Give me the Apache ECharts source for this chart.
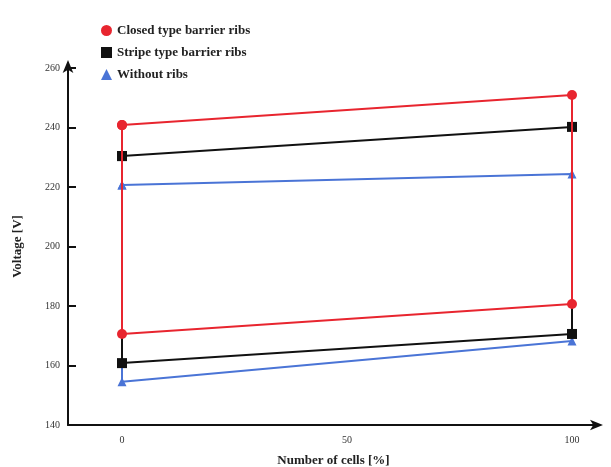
<!DOCTYPE html>
<html>
<head>
<meta charset="utf-8">
<title>Voltage vs number of cells</title>
<script src="https://cdn.jsdelivr.net/npm/echarts@6/dist/echarts.min.js"></script>
<style>
  html, body { margin: 0; padding: 0; background: #fff; }
  #chart { width: 611px; height: 467px; }
</style>
</head>
<body>
<div id="chart"></div>
<script>
// x positions (number of cells, %)
var cells = [0, 100];
var xTicks = [0, 50, 100];

// upper / lower voltage for each series at x = 0 and x = 100
var closedTop = [240.8, 250.9];
var closedBottom = [170.6, 180.7];
var stripeTop = [230.4, 240.2];
var stripeBottom = [160.8, 170.6];
var withoutTop = [220.7, 224.4];
var withoutBottom = [154.5, 168.2];

var names = ['Closed type barrier ribs', 'Stripe type barrier ribs', 'Without ribs'];
var colors = ['#e8252f', '#111111', '#4a74d6'];
var symbols = ['circle', 'rect', 'triangle'];

// closed loop: top left -> top right -> bottom right -> bottom left -> back
function loop(top, bottom) {
  return [
    [cells[0], top[0]],
    [cells[1], top[1]],
    [cells[1], bottom[1]],
    [cells[0], bottom[0]],
    [cells[0], top[0]]
  ];
}

var loops = [
  loop(closedTop, closedBottom),
  loop(stripeTop, stripeBottom),
  loop(withoutTop, withoutBottom)
];

var font = '"Liberation Serif", "DejaVu Serif", serif';

var series = [];
// draw "without" first so red ends up on top
for (var i = 2; i >= 0; i--) {
  series.push({
    name: names[i],
    type: 'line',
    data: loops[i],
    symbol: symbols[i],
    symbolSize: i === 2 ? 9 : 10,
    showAllSymbol: true,
    z: 10 - i,
    itemStyle: { color: colors[i] },
    lineStyle: { color: colors[i], width: 2 }
  });
}

var chart = echarts.init(document.getElementById('chart'));
chart.setOption({
  backgroundColor: '#ffffff',
  animation: false,
  legend: {
    orient: 'vertical',
    left: 96,
    top: 19,
    itemGap: 9,
    itemWidth: 11,
    itemHeight: 11,
    data: [
      { name: names[0], icon: 'circle' },
      { name: names[1], icon: 'rect' },
      { name: names[2], icon: 'triangle' }
    ],
    textStyle: { fontFamily: font, fontWeight: 'bold', fontSize: 13, color: '#222' }
  },
  grid: { left: 68, right: 12, top: 68, bottom: 42, outerBoundsMode: 'none', containLabel: false },
  xAxis: {
    type: 'value',
    min: -12,
    max: 106,
    name: 'Number of cells [%]',
    nameLocation: 'middle',
    nameGap: 29,
    nameTextStyle: { fontFamily: font, fontWeight: 'bold', fontSize: 13, color: '#222' },
    axisLine: { show: true, onZero: false, symbol: ['none', 'arrow'], symbolSize: [8, 13], symbolOffset: [0, 4], lineStyle: { color: '#111', width: 2 } },
    axisTick: { show: false },
    splitLine: { show: false },
    axisLabel: { customValues: xTicks, fontFamily: font, fontSize: 10, color: '#333', margin: 10 }
  },
  yAxis: {
    type: 'value',
    min: 140,
    max: 260,
    interval: 20,
    name: 'Voltage [V]',
    nameLocation: 'middle',
    nameGap: 44,
    nameTextStyle: { fontFamily: font, fontWeight: 'bold', fontSize: 13, color: '#222' },
    axisLine: { show: true, onZero: false, symbol: ['none', 'arrow'], symbolSize: [8, 13], symbolOffset: [0, 8], lineStyle: { color: '#111', width: 2 } },
    axisTick: { show: true, inside: true, length: 8, lineStyle: { color: '#111', width: 2 } },
    splitLine: { show: false },
    axisLabel: { fontFamily: font, fontSize: 10, color: '#333', margin: 8 }
  },
  series: series
});
</script>
</body>
</html>
